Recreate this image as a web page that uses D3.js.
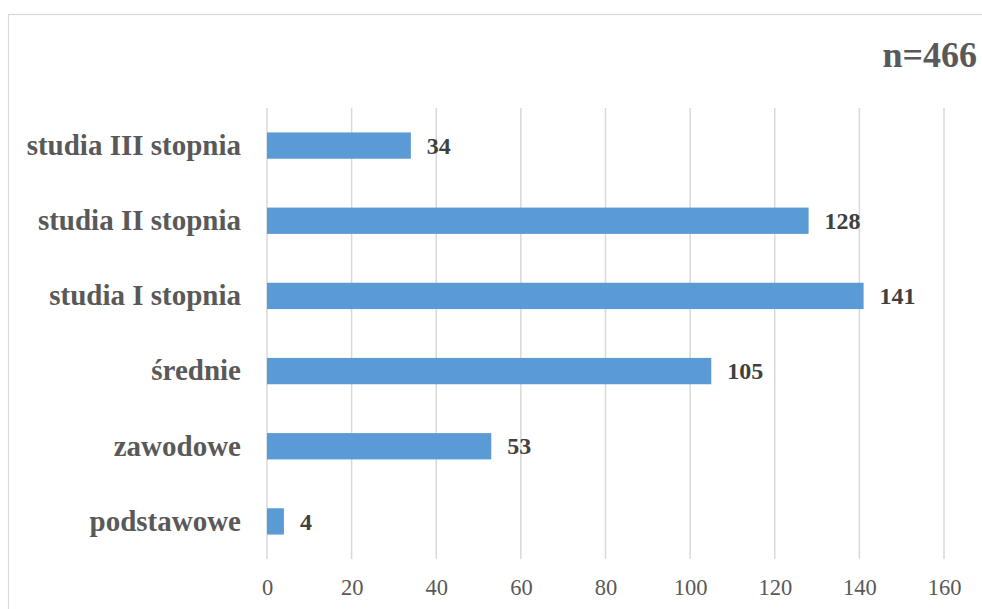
<!DOCTYPE html>
<html>
<head>
<meta charset="utf-8">
<script src="https://cdn.jsdelivr.net/npm/d3@7"></script>
<style>
  html, body { margin: 0; padding: 0; background: #ffffff; }
  svg { display: block; }
  text { font-family: "Liberation Serif", "Times New Roman", serif; }
</style>
</head>
<body>
<svg id="chart" width="982" height="609"></svg>
<script>
// Education level of respondents
const categories = ["studia III stopnia", "studia II stopnia", "studia I stopnia", "średnie", "zawodowe", "podstawowe"];
const counts = [34, 128, 141, 105, 53, 4];
const tickValues = [0, 20, 40, 60, 80, 100, 120, 140, 160];
const sampleLabel = "n=466";

const svg = d3.select("#chart");
const W = 982, H = 609;

// chart frame
svg.append("rect")
  .attr("x", 8.5).attr("y", 14.5)
  .attr("width", W + 10).attr("height", H + 10)
  .attr("fill", "#ffffff")
  .attr("stroke", "#d9d9d9").attr("stroke-width", 1.2);

const plot = { left: 267, right: 944, top: 108, bottom: 559 };

const x = d3.scaleLinear().domain([0, 160]).range([plot.left, plot.right]);
const y = d3.scaleBand().domain(categories).range([plot.top, plot.bottom]).paddingInner(0.65).paddingOuter(0.325);

// vertical gridlines
svg.append("g")
  .selectAll("line")
  .data(tickValues)
  .join("line")
  .attr("x1", d => x(d)).attr("x2", d => x(d))
  .attr("y1", plot.top).attr("y2", plot.bottom)
  .attr("stroke", "#d9d9d9").attr("stroke-width", 1.5);

// x axis labels
const xAxis = d3.axisBottom(x).tickValues(tickValues).tickSize(0).tickPadding(0);
const gx = svg.append("g").attr("transform", `translate(0,${plot.bottom})`).call(xAxis);
gx.select(".domain").remove();
gx.selectAll("text")
  .attr("y", 36).attr("dy", 0)
  .attr("fill", "#595959")
  .style("font-family", '"Liberation Serif", "Times New Roman", serif')
  .style("font-size", "22.5px");

// category labels
const yAxis = d3.axisLeft(y).tickSize(0).tickPadding(0);
const gy = svg.append("g").attr("transform", `translate(${plot.left},0)`).call(yAxis);
gy.select(".domain").remove();
gy.selectAll("text")
  .attr("x", -26).attr("dy", "0.32em")
  .attr("fill", "#595959")
  .style("font-family", '"Liberation Serif", "Times New Roman", serif')
  .style("font-size", "29px")
  .style("font-weight", "bold");

// bars
const rows = categories.map((c, i) => ({ cat: c, val: counts[i] }));
svg.append("g")
  .selectAll("rect")
  .data(rows)
  .join("rect")
  .attr("x", x(0))
  .attr("y", d => y(d.cat))
  .attr("width", d => x(d.val) - x(0))
  .attr("height", y.bandwidth())
  .attr("fill", "#5b9bd5");

// value labels
svg.append("g")
  .selectAll("text")
  .data(rows)
  .join("text")
  .attr("x", d => x(d.val) + 16)
  .attr("y", d => y(d.cat) + y.bandwidth() / 2)
  .attr("dy", "0.34em")
  .attr("fill", "#404040")
  .style("font-size", "24px")
  .style("font-weight", "bold")
  .text(d => d.val);

// sample size
svg.append("text")
  .attr("x", 977).attr("y", 67)
  .attr("text-anchor", "end")
  .attr("fill", "#595959")
  .style("font-size", "36px")
  .style("font-weight", "bold")
  .text(sampleLabel);
</script>
</body>
</html>
